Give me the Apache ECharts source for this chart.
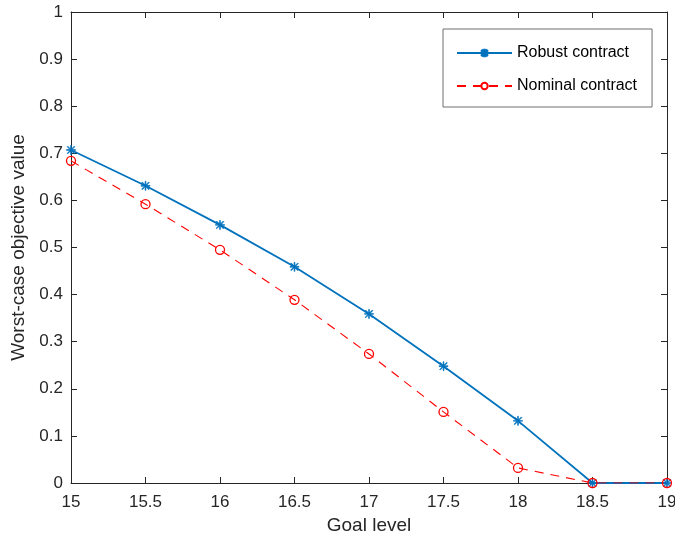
<!DOCTYPE html>
<html><head><meta charset="utf-8">
<script src="https://cdn.jsdelivr.net/npm/echarts@6/dist/echarts.min.js"></script>
<style>html,body{margin:0;padding:0;background:#fff}#c{width:675px;height:540px}</style>
</head><body><div id="c"></div>
<script>
var goalLevels = [15, 15.5, 16, 16.5, 17, 17.5, 18, 18.5, 19];
var robustValues = [0.707, 0.631, 0.548, 0.459, 0.359, 0.248, 0.132, 0, 0];
var nominalValues = [0.684, 0.592, 0.495, 0.389, 0.274, 0.151, 0.032, 0, 0];
var seriesNames = ['Robust contract', 'Nominal contract'];
var xTitle = 'Goal level';
var yTitle = 'Worst-case objective value';

var axisColor = '#262626';
var font = 'Liberation Sans, Arial, sans-serif';
var asterisk = 'path://M0,4.5h10v1h-10z M4.5,0h1v10h-1z M0.7,1.4L1.4,0.7L9.3,8.6L8.6,9.3z M8.6,0.7L9.3,1.4L1.4,9.3L0.7,8.6z';

function pairs(xs, ys){ return xs.map(function(x,i){ return [x, ys[i]]; }); }

var chart = echarts.init(document.getElementById('c'));
var baseX = {
  type: 'value', min: 15, max: 19, interval: 0.5,
  axisLine: {show: true, onZero: false, lineStyle: {color: axisColor, width: 1}},
  axisTick: {show: true, inside: true, length: 6, lineStyle: {color: axisColor}},
  splitLine: {show: false}
};
var baseY = {
  type: 'value', min: 0, max: 1, interval: 0.1,
  axisLine: {show: true, onZero: false, lineStyle: {color: axisColor, width: 1}},
  axisTick: {show: true, inside: true, length: 6, lineStyle: {color: axisColor}},
  splitLine: {show: false}
};
chart.setOption({
  animation: false,
  backgroundColor: '#fff',
  grid: {left: 71, right: 8, top: 12, bottom: 57, containLabel: false, outerBoundsMode: 'none'},
  textStyle: {fontFamily: font},
  legend: {
    orient: 'vertical', left: 443, top: 29,
    padding: [16, 15, 13, 13], itemGap: 17, itemWidth: 55, itemHeight: 8,
    borderColor: '#6e6e6e', borderWidth: 1, backgroundColor: '#fff',
    textStyle: {fontSize: 16, lineHeight: 14, color: '#000', fontFamily: font},
    data: seriesNames
  },
  xAxis: [
    Object.assign({}, baseX, {
      position: 'bottom', name: xTitle, nameLocation: 'middle', nameGap: 32,
      nameTextStyle: {fontSize: 19, color: axisColor, fontFamily: font},
      axisLabel: {fontSize: 17, color: axisColor, margin: 11, fontFamily: font}
    }),
    Object.assign({}, baseX, {position: 'top', axisLabel: {show: false}})
  ],
  yAxis: [
    Object.assign({}, baseY, {
      position: 'left', name: yTitle, nameLocation: 'middle', nameGap: 42,
      nameTextStyle: {fontSize: 19, color: axisColor, fontFamily: font},
      axisLabel: {fontSize: 17, color: axisColor, margin: 8, fontFamily: font}
    }),
    Object.assign({}, baseY, {position: 'right', axisLabel: {show: false}})
  ],
  series: [
    {
      name: seriesNames[0], type: 'line', xAxisIndex: 0, yAxisIndex: 0,
      data: pairs(goalLevels, robustValues),
      symbol: asterisk, symbolSize: 9, showAllSymbol: true,
      lineStyle: {color: '#0072BD', width: 1.8},
      itemStyle: {color: '#0072BD', borderColor: '#0072BD', borderWidth: 0.6}
    },
    {
      name: seriesNames[1], type: 'line', xAxisIndex: 0, yAxisIndex: 0,
      data: pairs(goalLevels, nominalValues),
      symbol: 'circle', symbolSize: 9, showAllSymbol: true,
      lineStyle: {color: '#FF0000', width: 1.1, type: [9, 7]},
      itemStyle: {color: 'rgba(0,0,0,0)', borderColor: '#FF0000', borderWidth: 1.3}
    }
  ]
});
</script></body></html>
